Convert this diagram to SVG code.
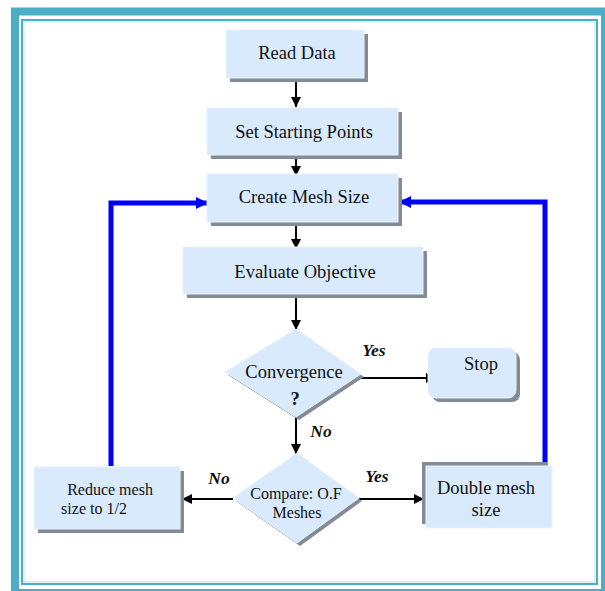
<svg xmlns="http://www.w3.org/2000/svg" width="605" height="591" viewBox="0 0 605 591">
  <style>
    .frame { fill: none; stroke: #4aaec6; }
    .box { fill: #d8eafc; stroke: #e6f2fe; stroke-width: 1; }
    .shadow { fill: #838b95; }
    .lbl { font-family: "Liberation Serif", "Times New Roman", serif; font-size: 18.5px; fill: #111; text-anchor: middle; }
    .small { font-size: 16px; }
    .tag { font-family: "Liberation Serif", "Times New Roman", serif; font-size: 17.5px; font-weight: bold; font-style: italic; fill: #111; text-anchor: middle; }
    .flow { fill: none; stroke: #000; stroke-width: 2; marker-end: url(#arrowBlack); }
    .loop { fill: none; stroke: #0000ff; stroke-width: 5; marker-end: url(#arrowBlue); }
  </style>
  <defs>
    <marker id="arrowBlack" viewBox="0 0 10 10" refX="10" refY="5" markerWidth="5" markerHeight="5" orient="auto" markerUnits="strokeWidth">
      <path d="M0,0 L10,5 L0,10 z" fill="#000"/>
    </marker>
    <marker id="arrowBlue" viewBox="0 0 10 10" refX="10" refY="5" markerWidth="2.4" markerHeight="2.4" orient="auto" markerUnits="strokeWidth">
      <path d="M0,0 L10,5 L0,10 z" fill="#0000ff"/>
    </marker>
  </defs>

  <rect width="605" height="591" fill="#fff"/>

  <!-- double frame -->
  <rect class="frame" x="15" y="11.5" width="590" height="581.5" stroke-width="8"/>
  <rect class="frame" x="22" y="20" width="575" height="564" stroke-width="2"/>
  <rect x="24" y="22" width="571" height="560" fill="none" stroke="#bfe3ec" stroke-width="1"/>

  <!-- connectors -->
  <g id="connectors">
    <line class="flow" x1="296" y1="80" x2="296" y2="107"/>
    <line class="flow" x1="296" y1="157" x2="296" y2="176"/>
    <line class="flow" x1="296" y1="225" x2="296" y2="249"/>
    <line class="flow" x1="296" y1="298" x2="296" y2="330"/>
    <line class="flow" x1="360" y1="378" x2="436" y2="378"/>
    <line class="flow" x1="296" y1="417" x2="296" y2="454"/>
    <line class="flow" x1="233" y1="499" x2="182" y2="499"/>
    <line class="flow" x1="359" y1="499" x2="424" y2="499"/>
    <polyline class="loop" points="111,466 111,203 208,203"/>
    <polyline class="loop" points="545,463 545,202 399,202"/>
  </g>

  <g id="read-data">
    <rect class="shadow" x="230" y="34" width="138" height="48"/>
    <rect class="box" x="226" y="30" width="138" height="48"/>
    <text class="lbl" x="297" y="59">Read Data</text>
  </g>

  <g id="set-starting-points">
    <rect class="shadow" x="211" y="112" width="191" height="47"/>
    <rect class="box" x="207" y="108" width="191" height="47"/>
    <text class="lbl" x="304" y="138">Set Starting Points</text>
  </g>

  <g id="create-mesh-size">
    <rect class="shadow" x="211" y="178" width="191" height="48"/>
    <rect class="box" x="207" y="174" width="191" height="48"/>
    <text class="lbl" x="304" y="203">Create Mesh Size</text>
  </g>

  <g id="evaluate-objective">
    <rect class="shadow" x="187" y="251" width="240" height="47"/>
    <rect class="box" x="183" y="247" width="240" height="47"/>
    <text class="lbl" x="305" y="278">Evaluate Objective</text>
  </g>

  <g id="convergence">
    <polygon class="shadow" points="299,332 364,377 299,420 228,375"/>
    <polygon class="box" points="296,329 361,374 296,417 225,372"/>
    <text class="lbl" x="294" y="378">Convergence</text>
    <text class="lbl" x="295" y="405" font-weight="bold" font-size="22">?</text>
  </g>

  <g id="stop">
    <rect class="shadow" x="432" y="352" width="88" height="50" rx="8"/>
    <rect class="box" x="428" y="348" width="88" height="50" rx="8"/>
    <text class="lbl" x="481" y="370">Stop</text>
  </g>

  <g id="compare">
    <polygon class="shadow" points="300,456 362,501 300,546 236,501"/>
    <polygon class="box" points="297,453 359,498 297,543 233,498"/>
    <text class="lbl small" x="296" y="498.5">Compare: O.F</text>
    <text class="lbl small" x="297" y="517.5">Meshes</text>
  </g>

  <g id="reduce-mesh">
    <rect class="shadow" x="38" y="471" width="146" height="62"/>
    <rect class="box" x="34" y="467" width="146" height="62"/>
    <text class="lbl small" x="110" y="494.5">Reduce mesh</text>
    <text class="lbl small" x="94" y="513.5">size to 1/2</text>
  </g>

  <g id="double-mesh">
    <rect class="shadow" x="422" y="462" width="126" height="62"/>
    <rect class="box" x="426" y="466" width="126" height="62"/>
    <text class="lbl" x="486" y="494">Double mesh</text>
    <text class="lbl" x="486" y="516">size</text>
  </g>

  <g id="labels">
    <text class="tag" x="374" y="356">Yes</text>
    <text class="tag" x="321" y="437">No</text>
    <text class="tag" x="219" y="484">No</text>
    <text class="tag" x="377" y="482">Yes</text>
  </g>
</svg>
